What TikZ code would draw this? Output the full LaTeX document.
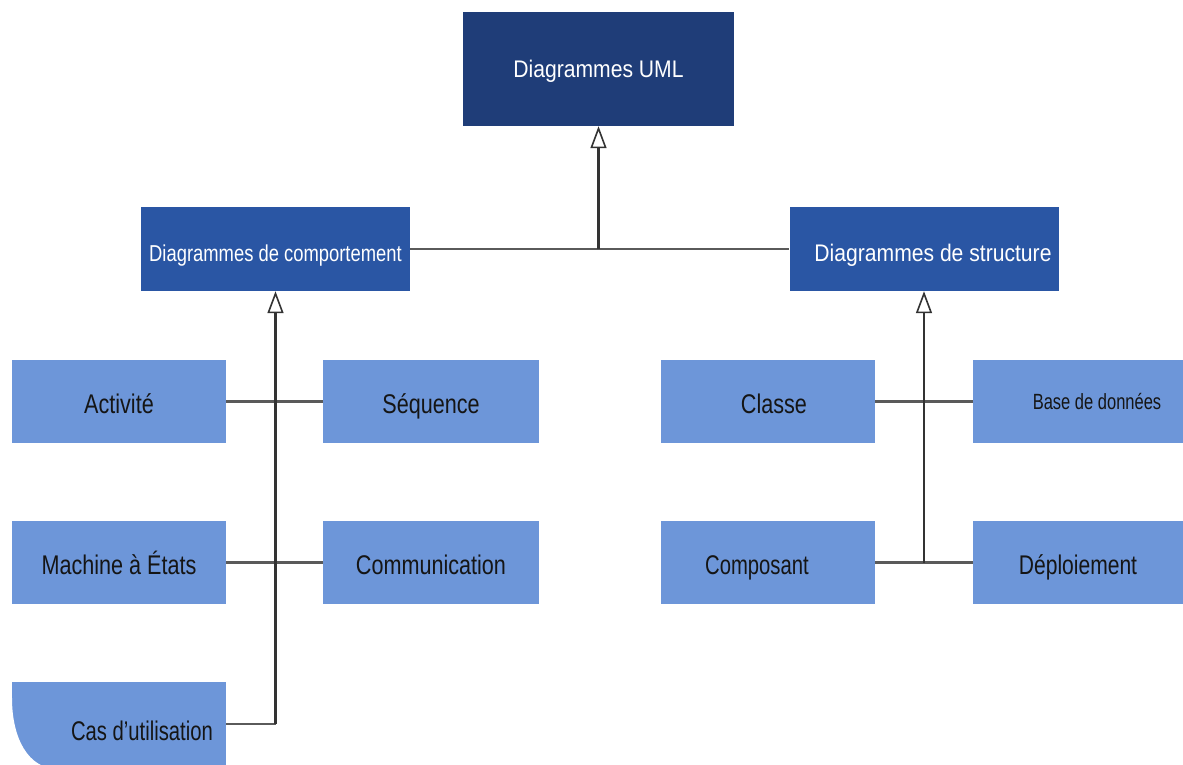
\documentclass[tikz,border=0pt]{standalone}
\usepackage{fontspec}
\setmainfont{Liberation Sans}
\usepackage{graphicx}
\usetikzlibrary{arrows.meta}
\definecolor{navy}{HTML}{1F3D78}
\definecolor{midblue}{HTML}{2A56A4}
\definecolor{lightblue}{HTML}{6D96D9}
\definecolor{linegray}{HTML}{5A5A5A}
\definecolor{darktext}{HTML}{151515}
\newcommand{\condtxt}[2]{\scalebox{#1}[1]{#2}}
\begin{document}
\begin{tikzpicture}[x=1pt,y=-1pt,
  topbox/.style={rectangle, fill=navy, text=white, minimum width=271pt, minimum height=114pt, inner sep=0pt, text height=22pt, text depth=4pt, font=\fontsize{24}{28}\selectfont},
  catbox/.style={rectangle, fill=midblue, text=white, minimum width=269pt, minimum height=84pt, inner sep=0pt, text height=26pt, text depth=2pt, font=\fontsize{24}{28}\selectfont},
  leafbox/.style={rectangle, fill=lightblue, text=darktext, minimum width=214pt, minimum height=83pt, inner sep=0pt, text height=27pt, text depth=3pt, font=\fontsize{27}{31}\selectfont},
  conn/.style={draw=linegray, line width=2.5pt},
  genarrow/.style={-{Triangle[open, fill=white, length=22pt, width=16pt, line width=1.6pt]}, draw=black!80, line width=2.2pt}
]
\useasboundingbox (0,0) rectangle (1183,765);
\fill[white] (0,0) rectangle (1183,765);

% top
\node[topbox] (uml) at (598.5,69) {\condtxt{0.88}{Diagrammes UML}};
\node[catbox] (comp) at (275.5,249) {\condtxt{0.8}{\fontsize{23}{27}\selectfont Diagrammes de comportement}};
\node[catbox] (struct) at (924,249) {\hspace*{18pt}\condtxt{0.88}{Diagrammes de structure}};

% left leaves
\node[leafbox] (act) at (119,401.5) {\condtxt{0.8}{Activité}};
\node[leafbox, minimum width=216pt] (seq) at (431,401.5) {\condtxt{0.8}{Séquence}};
\node[leafbox] (mach) at (119,562.5) {\condtxt{0.8}{Machine à États}};
\node[leafbox, minimum width=216pt] (commu) at (431,562.5) {\condtxt{0.8}{Communication}};
\node[leafbox, minimum height=84pt] (cas) at (119,724) {\hspace*{46pt}\raisebox{-4pt}{\condtxt{0.75}{Cas d'utilisation}}};

% right leaves
\node[leafbox] (classe) at (768,401.5) {\hspace*{12pt}\condtxt{0.8}{Classe}};
\node[leafbox, minimum width=210pt] (bdd) at (1078,401.5) {\hspace*{38pt}\raisebox{4pt}{\condtxt{0.75}{\fontsize{22}{26}\selectfont Base de données}}};
\node[leafbox] (compo) at (768,562.5) {\hspace*{-22pt}\condtxt{0.75}{Composant}};
\node[leafbox, minimum width=210pt] (depl) at (1078,562.5) {\condtxt{0.78}{Déploiement}};

% rounded bottom-left corner of the frame
\fill[white] (8,698) -- (12,698) .. controls (12,738) and (28,769) .. (58,769) -- (8,769) -- cycle;

% connectors: top level
\coordinate (j) at (uml.south |- comp.east);
\draw[conn] (comp.east) -- (struct.west);
\draw[genarrow] (j) -- (uml.south);

% connectors: behaviour
\draw[conn] (act.east) -- (seq.west);
\draw[conn] (mach.east) -- (commu.west);
\draw[conn] (cas.east) -- (cas.east -| comp.south);
\draw[genarrow] (cas.east -| comp.south) -- (comp.south);

% connectors: structure
\draw[conn] (classe.east) -- (bdd.west);
\draw[conn] (compo.east) -- (depl.west);
\draw[genarrow] (compo.east -| struct.south) -- (struct.south);
\end{tikzpicture}
\end{document}
